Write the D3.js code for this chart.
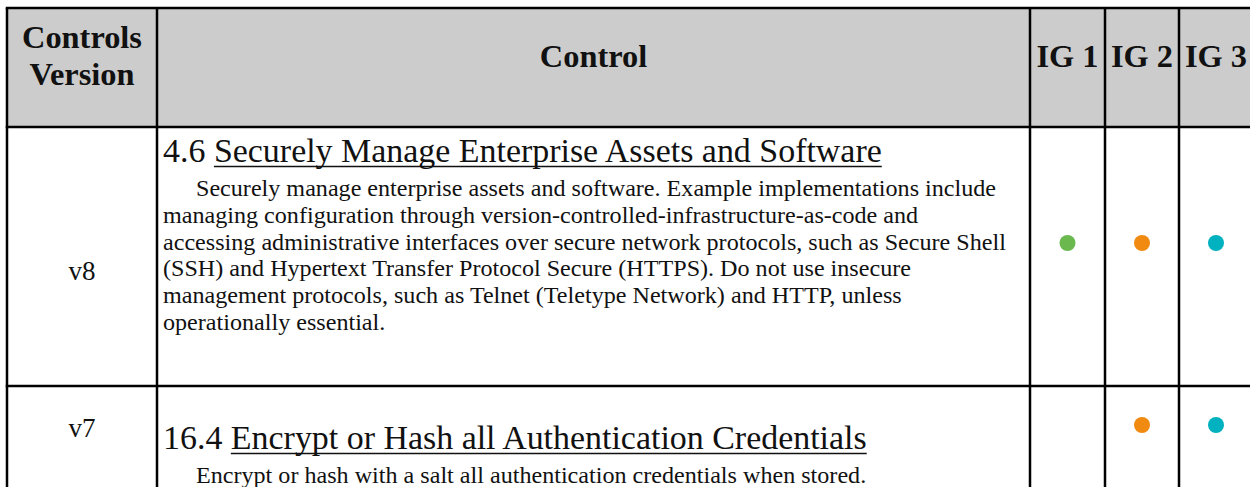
<!DOCTYPE html>
<html>
<head>
<meta charset="utf-8">
<script src="https://cdn.jsdelivr.net/npm/d3@7"></script>
<style>
  html, body { margin: 0; padding: 0; background: #fff; }
  svg { display: block; }
  text { font-family: "Liberation Serif", "DejaVu Serif", serif; fill: #111; }
</style>
</head>
<body>
<svg id="chart" width="1250" height="487"></svg>
<script>
// ---- data ----
const headerLabels = ["Controls\nVersion", "Control", "IG 1", "IG 2", "IG 3"];
const versions = ["v8", "v7"];
const controlIds = ["4.6", "16.4"];
const controlTitles = ["Securely Manage Enterprise Assets and Software",
                       "Encrypt or Hash all Authentication Credentials"];
const descriptions = [
  ["Securely manage enterprise assets and software. Example implementations include",
   "managing configuration through version-controlled-infrastructure-as-code and",
   "accessing administrative interfaces over secure network protocols, such as Secure Shell",
   "(SSH) and Hypertext Transfer Protocol Secure (HTTPS). Do not use insecure",
   "management protocols, such as Telnet (Teletype Network) and HTTP, unless",
   "operationally essential."],
  ["Encrypt or hash with a salt all authentication credentials when stored."]
];
const ig1 = [true, false];
const ig2 = [true, true];
const ig3 = [true, true];
const igColors = ["#6BB84F", "#F08A10", "#00B1BF"];

// ---- layout ----
const svg = d3.select("#chart");
const colEdges = [7, 157, 1030, 1105, 1179, 1253];
const rowEdges = [8, 127, 386, 560];
const headerFill = "#cccccc";

const x = i => colEdges[i];
const y = i => rowEdges[i];

// header background
svg.append("rect").attr("x", x(0)).attr("y", y(0))
  .attr("width", x(5) - x(0)).attr("height", y(1) - y(0)).attr("fill", headerFill);

// helper for fitting font size to a target width
function fit(sel, targetWidth) {
  const w = sel.node().getComputedTextLength();
  const fs = parseFloat(sel.attr("font-size"));
  return fs * targetWidth / w;
}

// measure fonts
const probe = svg.append("g").attr("opacity", 0);
const bodyProbe = probe.append("text").attr("font-size", 18).text(descriptions[0][2]);
const bodySize = fit(bodyProbe, 843);
const titleProbe = probe.append("text").attr("font-size", 30).text(controlIds[0] + " " + controlTitles[0]);
const titleSize = fit(titleProbe, 719);
const headProbe = probe.append("text").attr("font-size", 28).attr("font-weight", "bold").text("Controls");
const headSize = fit(headProbe, 120);
const verProbe = probe.append("text").attr("font-size", 28).text("v8");
const verSize = fit(verProbe, 27);
probe.remove();

// header texts
const cx = i => (x(i) + x(i + 1)) / 2;
headerLabels.forEach((lab, i) => {
  const lines = lab.split("\n");
  const t = svg.append("text").attr("text-anchor", "middle")
    .attr("font-weight", "bold").attr("font-size", headSize);
  if (lines.length === 2) {
    t.append("tspan").attr("x", cx(i)).attr("y", 48).text(lines[0]);
    t.append("tspan").attr("x", cx(i)).attr("y", 85).text(lines[1]);
  } else {
    t.attr("x", cx(i)).attr("y", 67).text(lines[0]);
  }
});

// rows
const rowBase = [
  {ver: 280, title: 162, body: 196, dot: 243},
  {ver: 437, title: 449, body: 483, dot: 425}
];
const lineH = 26.8;
const textX = 163, indent = 33;

versions.forEach((v, r) => {
  const rb = rowBase[r];
  svg.append("text").attr("x", cx(0)).attr("y", rb.ver).attr("text-anchor", "middle")
    .attr("font-size", verSize).text(v);

  const t = svg.append("text").attr("x", textX).attr("y", rb.title).attr("font-size", titleSize);
  t.append("tspan").text(controlIds[r] + " ");
  const u = t.append("tspan").text(controlTitles[r]);
  // underline
  const idW = svg.append("text").attr("font-size", titleSize).attr("opacity", 0)
    .text(controlIds[r] + "\u00a0");
  const startX = textX + idW.node().getComputedTextLength();
  idW.remove();
  const fullW = t.node().getComputedTextLength();
  svg.append("line").attr("x1", startX).attr("x2", textX + fullW)
    .attr("y1", rb.title + 4.5).attr("y2", rb.title + 4.5)
    .attr("stroke", "#111").attr("stroke-width", 1.6);

  descriptions[r].forEach((ln, k) => {
    svg.append("text").attr("x", textX + (k === 0 ? indent : 0))
      .attr("y", rb.body + k * lineH).attr("font-size", bodySize).text(ln);
  });

  [ig1, ig2, ig3].forEach((arr, j) => {
    if (arr[r]) {
      svg.append("circle").attr("cx", cx(j + 2)).attr("cy", rb.dot).attr("r", 8)
        .attr("fill", igColors[j]);
    }
  });
});

// grid lines
const g = svg.append("g").attr("stroke", "#000").attr("stroke-width", 2.5);
colEdges.forEach(cxv => {
  g.append("line").attr("x1", cxv).attr("x2", cxv).attr("y1", y(0)).attr("y2", y(3));
});
rowEdges.forEach(ryv => {
  g.append("line").attr("x1", x(0) - 1.25).attr("x2", x(5)).attr("y1", ryv).attr("y2", ryv);
});
</script>
</body>
</html>
